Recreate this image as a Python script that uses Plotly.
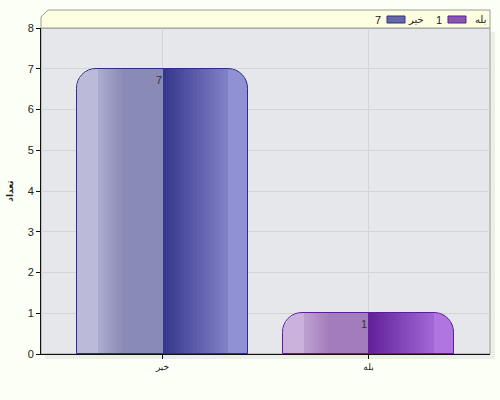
import plotly.graph_objects as go

# data
categories = ["خیر", "بله"]
values = [7, 1]
y_ticks = [0, 1, 2, 3, 4, 5, 6, 7, 8]
y_title = "تعداد"

# per-bar colours: left half (edge -> mid), right half (centre -> edge), outline
left_cols = [("#C6C6E0", "#8A8AB6"), ("#D4BEE4", "#A27CBC")]
right_cols = [("#34348A", "#9A9ADC"), ("#60209A", "#B87EE8")]
line_cols = ["#2E2E8C", "#5E1C9C"]

BAR_W = 0.83
HALF = BAR_W / 2
RADIUS = 20
R_UNITS = 0.1  # corner radius expressed in x units (approx)

L, R, T, B = 41, 10, 28, 46
W, H = 500, 400


def mix(c1, c2, t):
    a = [int(c1[i:i + 2], 16) for i in (1, 3, 5)]
    b = [int(c2[i:i + 2], 16) for i in (1, 3, 5)]
    return "#" + "".join(f"{round(a[k] + (b[k] - a[k]) * t):02x}" for k in range(3))


def left_color(i, x):
    # x in [-HALF, 0]; gradient across first part then flat
    t = min(1.0, (x + HALF) / (HALF * 0.55))
    return mix(left_cols[i][0], left_cols[i][1], max(0.0, t))


def right_color(i, x):
    t = x / HALF
    return mix(right_cols[i][0], right_cols[i][1], min(1.0, max(0.0, t)))


fig = go.Figure()
n = len(categories)

# base rounded bar (left edge colour)
fig.add_trace(go.Bar(
    x=categories, y=values, width=BAR_W, offset=-HALF,
    marker=dict(color=[left_color(i, -HALF + R_UNITS * 0.4) for i in range(n)],
                cornerradius=RADIUS, line_width=0),
    hoverinfo="skip", showlegend=False))
# right half rounded (right edge colour)
fig.add_trace(go.Bar(
    x=categories, y=values, width=HALF, offset=0,
    marker=dict(color=[right_color(i, HALF - R_UNITS * 0.4) for i in range(n)],
                cornerradius=RADIUS, line_width=0),
    hoverinfo="skip", showlegend=False))

# interior square strips giving the gradient
step = 0.015
x0 = -HALF + R_UNITS
while x0 < HALF - R_UNITS - 1e-9:
    x1 = min(x0 + step, HALF - R_UNITS)
    mid = (x0 + x1) / 2
    if mid < 0:
        cols = [left_color(i, mid) for i in range(n)]
    else:
        cols = [right_color(i, mid) for i in range(n)]
    fig.add_trace(go.Bar(
        x=categories, y=values, width=x1 - x0 + 0.004, offset=x0,
        marker=dict(color=cols, line_width=0),
        hoverinfo="skip", showlegend=False))
    x0 = x1

# outline
fig.add_trace(go.Bar(
    x=categories, y=values, width=BAR_W, offset=-HALF,
    marker=dict(color="rgba(0,0,0,0)", cornerradius=RADIUS,
                line=dict(color=line_cols, width=1)),
    hoverinfo="skip", showlegend=False))

# value labels
for c, v in zip(categories, values):
    fig.add_annotation(x=c, y=v, text=str(v), showarrow=False,
                       xanchor="right", yanchor="top", yshift=-3, xshift=1,
                       font=dict(family="Liberation Sans", size=11, color="#333333"))

pw, ph = W - L - R, H - T - B


def px_x(px):
    return (px - L) / pw


def px_y(py):
    return (H - B - py) / ph


shapes = [
    # shadow of plot area
    dict(type="rect", xref="paper", yref="paper", layer="below",
         x0=px_x(L + 4), x1=px_x(L + pw + 5), y0=px_y(H - B + 5), y1=px_y(T + 4),
         fillcolor="#ECEEEA", line_width=0),
    # plot area
    dict(type="rect", xref="paper", yref="paper", layer="below",
         x0=0, x1=1, y0=0, y1=1, fillcolor="#E5E7EB",
         line=dict(color="#9A9A9A", width=1)),
    # legend box with chamfered corner
    dict(type="path", xref="paper", yref="paper",
         path=f"M {px_x(L)},{px_y(T)} L {px_x(L)},{px_y(17)} L {px_x(48)},{px_y(10)} "
              f"L {px_x(L + pw)},{px_y(10)} L {px_x(L + pw)},{px_y(T)} Z",
         fillcolor="#FEFEE0", line=dict(color="#9A9A9A", width=1)),
]

# legend: swatch + labels, drawn right to left
swatch_x = [(448, 466), (387, 405)]
label_x = [488, 426]
value_x = [444, 383]
for i, (c, v) in enumerate(zip(categories[::-1], values[::-1])):
    j = n - 1 - i
    shapes.append(dict(type="rect", xref="paper", yref="paper",
                       x0=px_x(swatch_x[i][0]), x1=px_x(swatch_x[i][1]),
                       y0=px_y(23), y1=px_y(16),
                       fillcolor=mix(left_cols[j][1], right_cols[j][0], 0.4),
                       line=dict(color=line_cols[j], width=1)))
    fig.add_annotation(x=px_x(label_x[i]), y=px_y(19.5), xref="paper", yref="paper",
                       text=c, showarrow=False, xanchor="right", yanchor="middle",
                       font=dict(family="DejaVu Sans", size=10, color="#222222"))
    fig.add_annotation(x=px_x(value_x[i]), y=px_y(19.5), xref="paper", yref="paper",
                       text=str(v), showarrow=False, xanchor="right", yanchor="middle",
                       font=dict(family="Liberation Sans", size=11, color="#222222"))

fig.update_layout(
    width=W, height=H,
    margin=dict(l=L, r=R, t=T, b=B, pad=0),
    paper_bgcolor="#FBFFF5",
    plot_bgcolor="rgba(0,0,0,0)",
    barmode="overlay",
    bargap=0,
    shapes=shapes,
    showlegend=False,
    font=dict(family="Liberation Sans", size=11, color="#222222"),
)
fig.update_xaxes(
    range=[-0.59, 1.59], showgrid=True, gridcolor="#D2D4D8", gridwidth=1,
    showline=True, linecolor="#111111", linewidth=1,
    ticks="outside", ticklen=4, tickcolor="#111111",
    tickfont=dict(family="DejaVu Sans", size=9, color="#222222"),
    zeroline=False, fixedrange=True,
)
fig.update_yaxes(
    range=[0, 8], tickvals=y_ticks, showgrid=True, gridcolor="#D2D4D8", gridwidth=1,
    showline=True, linecolor="#111111", linewidth=1,
    ticks="outside", ticklen=4, tickcolor="#111111",
    tickfont=dict(family="Liberation Sans", size=11, color="#222222"),
    zeroline=False, fixedrange=True,
    title=dict(text=y_title, standoff=12,
               font=dict(family="DejaVu Sans", size=9, weight="bold", color="#222222")),
)

fig.write_html("out.html", config={"displayModeBar": False},
               post_script="document.body.style.margin='0';")
